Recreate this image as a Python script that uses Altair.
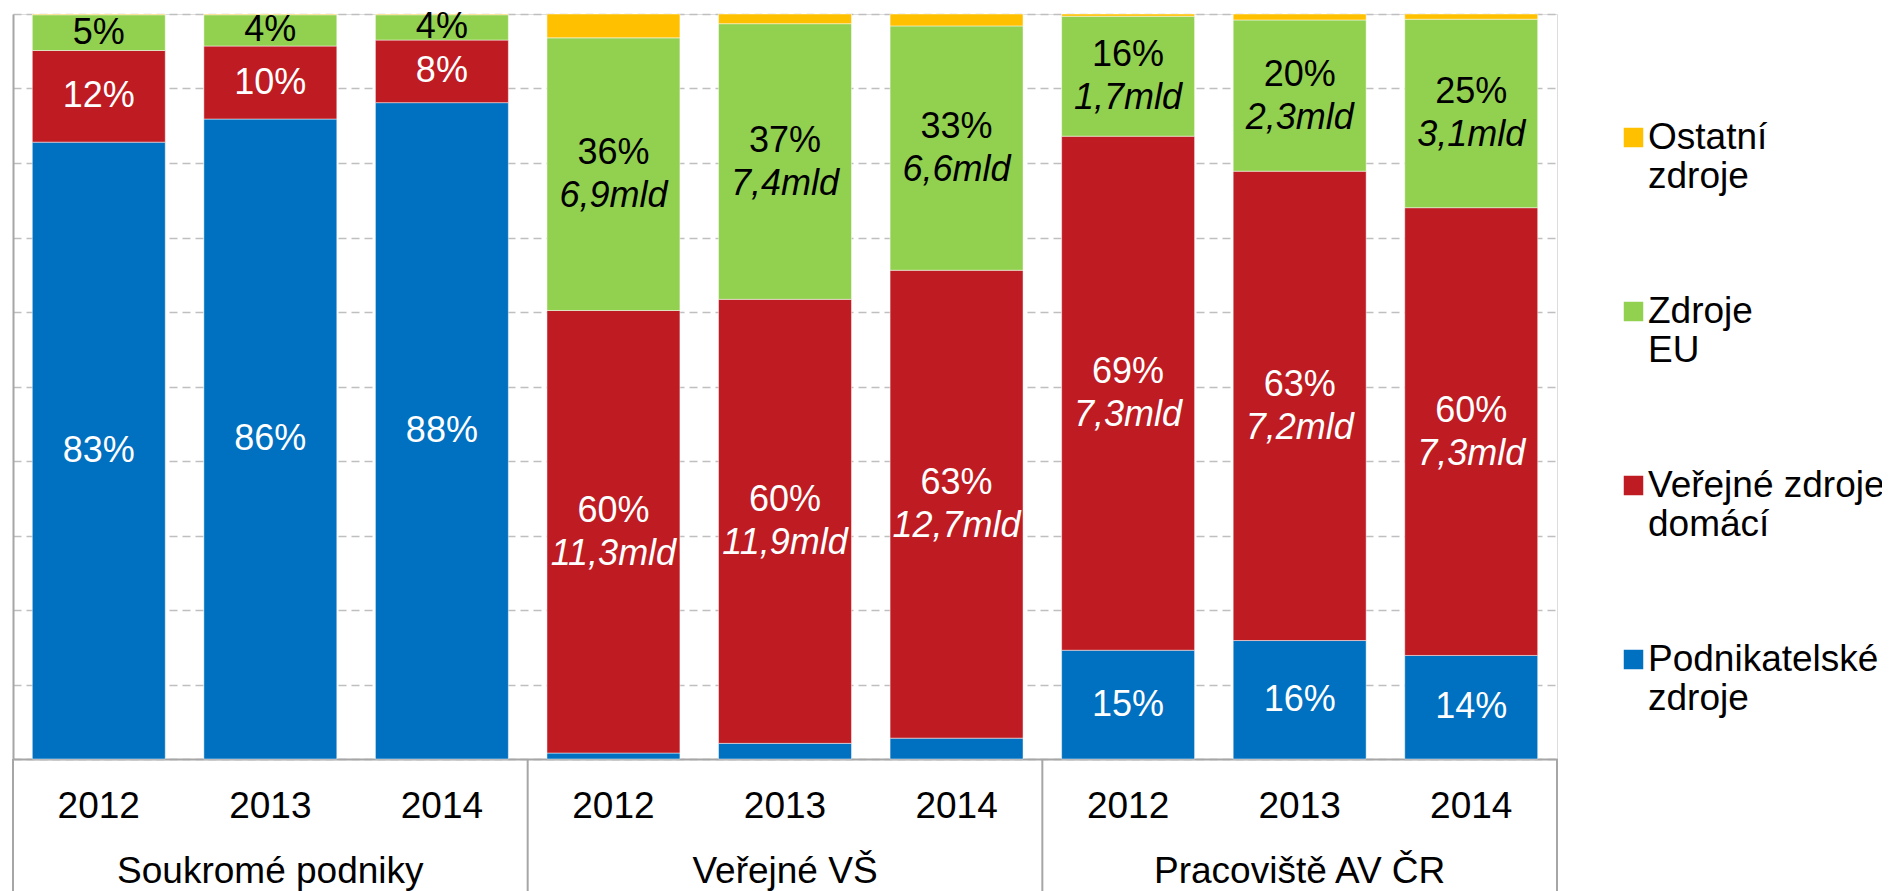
import altair as alt
import pandas as pd

FONT = "Liberation Sans"

groups = ["Soukromé podniky", "Veřejné VŠ", "Pracoviště AV ČR"]
years = ["2012", "2013", "2014"]
# stacking order, bottom to top
series = ["Podnikatelské|zdroje", "Veřejné zdroje|domácí", "Zdroje|EU", "\u00a0Ostatní|zdroje"]
series_colors = ["#0070C0", "#BE1B22", "#92D050", "#FFC000"]

podnikatelske = [82.8, 85.9, 88.1, 0.8, 2.1, 2.8, 14.6, 15.9, 13.9]
verejne = [12.3, 9.8, 8.4, 59.4, 59.6, 62.8, 69.0, 63.0, 60.1]
eu = [4.8, 4.2, 3.4, 36.6, 37.0, 32.8, 16.1, 20.3, 25.3]
ostatni = [0.1, 0.1, 0.1, 3.2, 1.3, 1.6, 0.3, 0.8, 0.7]

pct_podnik = ["83%", "86%", "88%", "", "", "", "15%", "16%", "14%"]
pct_verejne = ["12%", "10%", "8%", "60%", "60%", "63%", "69%", "63%", "60%"]
pct_eu = ["5%", "4%", "4%", "36%", "37%", "33%", "16%", "20%", "25%"]
pct_ostatni = [""] * 9
mld_podnik = [""] * 9
mld_verejne = ["", "", "", "11,3mld", "11,9mld", "12,7mld", "7,3mld", "7,2mld", "7,3mld"]
mld_eu = ["", "", "", "6,9mld", "7,4mld", "6,6mld", "1,7mld", "2,3mld", "3,1mld"]
mld_ostatni = [""] * 9

slots = [f"{g}|{y}" for g in groups for y in years]
values = [podnikatelske, verejne, eu, ostatni]
pcts = [pct_podnik, pct_verejne, pct_eu, pct_ostatni]
mlds = [mld_podnik, mld_verejne, mld_eu, mld_ostatni]

rows = []
for i, slot in enumerate(slots):
    base = 0.0
    for k, s in enumerate(series):
        v = values[k][i]
        rows.append(dict(slot=slot, series=s, y0=base, y1=base + v, mid=base + v / 2,
                         pct=pcts[k][i], mld=mlds[k][i],
                         light=(k < 2)))
        base += v
df = pd.DataFrame(rows)

group_df = pd.DataFrame({"slot": [slots[1], slots[4], slots[7]], "group": groups})
sep_start_df = pd.DataFrame({"slot": [slots[0], slots[3], slots[6]]})
sep_end_df = pd.DataFrame({"slot": [slots[8]]})

W, H = 1544, 745
legend_order = list(reversed(series))
legend_colors = list(reversed(series_colors))

x_scale = alt.Scale(domain=slots, paddingInner=0, paddingOuter=0)
x_axis = alt.Axis(title=None, labelExpr="split(datum.label, '|')[1]", labelFontSize=37,
                  labelFont=FONT, labelColor="#000000", labelAngle=0, labelPadding=29,
                  ticks=False, domainColor="#A6A6A6", domainWidth=2, grid=False)
y_scale = alt.Scale(domain=[0, 100], nice=False, zero=True)
y_axis = alt.Axis(title=None, labels=False, ticks=False, values=list(range(0, 101, 10)),
                  grid=True, gridDash=[8, 5], gridColor="#BFBFBF", gridWidth=1.5,
                  domainColor="#A6A6A6", domainWidth=2)


def X(**kw):
    return alt.X("slot:N", scale=x_scale, sort=slots, axis=x_axis, **kw)


def Y(field):
    return alt.Y(f"{field}:Q", scale=y_scale, axis=y_axis)


bars = alt.Chart(df).mark_bar(width=alt.RelativeBandSize(0.775), stroke="#ffffff",
                              strokeWidth=0.8, strokeOpacity=0.6).encode(
    x=X(),
    y=Y("y0"),
    y2="y1:Q",
    color=alt.Color("series:N", scale=alt.Scale(domain=legend_order, range=legend_colors),
                    legend=alt.Legend(title=None, orient="none", direction="vertical",
                                      legendX=1598, legendY=105, symbolType="square",
                                      symbolSize=380, symbolStrokeWidth=0, symbolOffset=4,
                                      labelFontSize=37, labelFont=FONT, labelColor="#000000",
                                      labelLimit=0, labelOffset={"expr": "-4"},
                                      rowPadding=97, padding=0,
                                      labelExpr="split(datum.label, '|')")),
)

single = df[(df["pct"] != "") & (df["mld"] == "")]
double = df[(df["pct"] != "") & (df["mld"] != "")]


def label_layers(data, dy_pct, with_mld):
    out = []
    for light, col in [(True, "#FFFFFF"), (False, "#000000")]:
        sub = data[data["light"] == light]
        if len(sub) == 0:
            continue
        out.append(alt.Chart(sub).mark_text(fontSize=36, font=FONT, color=col,
                                            baseline="middle", dy=dy_pct).encode(
            x=X(), y=Y("mid"), text="pct:N"))
        if with_mld:
            out.append(alt.Chart(sub).mark_text(fontSize=36, font=FONT, color=col,
                                                fontStyle="italic", baseline="middle",
                                                dy=22).encode(
                x=X(), y=Y("mid"), text="mld:N"))
    return out


texts = label_layers(single, 0, False) + label_layers(double, -21, True)

group_labels = alt.Chart(group_df).mark_text(fontSize=37, font=FONT, color="#000000",
                                             baseline="middle").encode(
    x=X(), y=alt.value(858), text="group:N")

sep_start = alt.Chart(sep_start_df).mark_rule(color="#A6A6A6", strokeWidth=2).encode(
    x=X(bandPosition=0), y=alt.value(H), y2=alt.value(H + 135))
sep_end = alt.Chart(sep_end_df).mark_rule(color="#A6A6A6", strokeWidth=2).encode(
    x=X(bandPosition=1), y=alt.value(H), y2=alt.value(H + 135))

chart = alt.layer(bars, *texts, group_labels, sep_start, sep_end).properties(
    width=W, height=H,
    autosize=alt.AutoSizeParams(type="none"),
    padding={"left": 5, "top": 6, "right": 325, "bottom": 135},
).configure_view(stroke=None).configure(background="#FFFFFF")

chart.save("out.html", embed_options={"renderer": "svg", "actions": False})
